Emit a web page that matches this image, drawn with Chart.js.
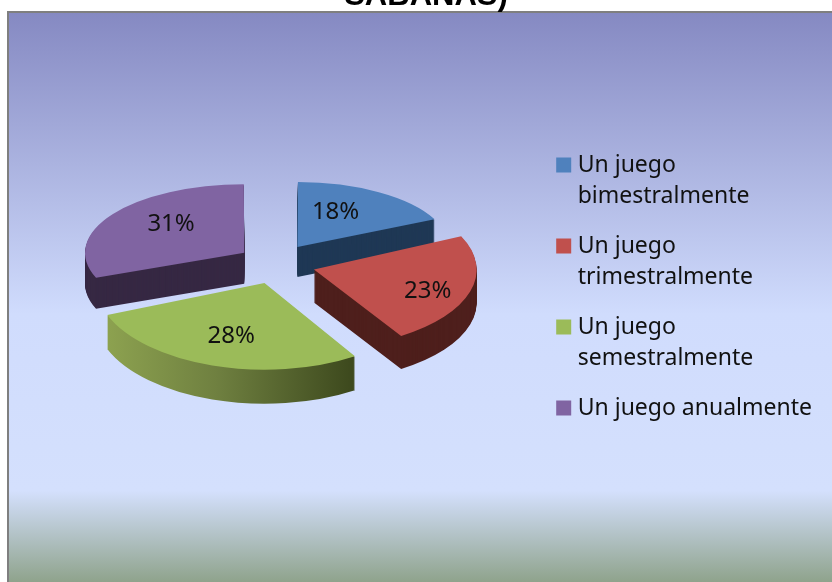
<!DOCTYPE html>
<html>
<head>
<meta charset="utf-8">
<style>
html,body{margin:0;padding:0;background:#fff;overflow:hidden}
canvas{display:block}
</style>
<script src="https://cdn.jsdelivr.net/npm/chart.js@4"></script>
</head>
<body>
<canvas id="c" width="832" height="582"></canvas>
<script>
const categories = [
  ["Un juego", "bimestralmente"],
  ["Un juego", "trimestralmente"],
  ["Un juego", "semestralmente"],
  ["Un juego anualmente"]
];
const percentages = [18, 23, 28, 31];
const titleText = "SABANAS)";

const topColors = ["#4f81bd", "#c0504d", "#9bbb59", "#8064a2"];
const sideColors = ["#1f3855", "#4e1f1c", null, "#362843"];
const labelRadiusX = [0.48, 0.73, 0.64, 0.565];
const labelRadiusY = [0.66, 0.99, 0.65, 0.75];
const sliceScaleX = [1, 1, 1, 1.03];
const drawOrder = [0, 3, 1, 2];

const view = { x: 276.5, y: 264, tilt: 0.513, ry: 0.47, radius: 160, explode: 39, depth: 32, persX: 0.06, persY: 0.16 };
const panel = { left: 8, top: 12 };

const backgroundPlugin = {
  id: "panel",
  beforeDraw(chart) {
    const ctx = chart.ctx, w = chart.width, h = chart.height;
    const g = ctx.createLinearGradient(0, panel.top, 0, h);
    g.addColorStop(0, "#8589c2");
    g.addColorStop(0.53, "#d0dcfd");
    g.addColorStop(0.84, "#d4e0fd");
    g.addColorStop(1, "#8fa38c");
    ctx.save();
    ctx.fillStyle = g;
    ctx.fillRect(panel.left, panel.top, w - panel.left, h - panel.top);
    ctx.fillStyle = "#7f7f7f";
    ctx.fillRect(panel.left - 1, panel.top - 1, w, 2);
    ctx.fillRect(panel.left - 1, panel.top - 1, 2, h);
    ctx.restore();
  }
};

const pie3dPlugin = {
  id: "pie3d",
  beforeDatasetsDraw(chart) {
    const ctx = chart.ctx;
    const arcs = chart.getDatasetMeta(0).data;
    const project = (arc, i) => {
      const mid = (arc.startAngle + arc.endAngle) / 2;
      const off = arc.options.offset / 4;
      const fix = 1 - Math.sin(Math.min(Math.PI, arc.circumference));
      const comp = arc.outerRadius / (arc.outerRadius + off * fix);
      const d = Math.sin(mid);
      return {
        mid, off, d,
        ax: arc.x + Math.cos(mid) * off,
        ay: arc.y + Math.sin(mid) * off,
        sx: view.x + Math.cos(mid) * view.explode,
        sy: view.y + Math.sin(mid) * view.explode * view.tilt,
        kx: comp * (1 + view.persX * d) * sliceScaleX[i],
        ky: comp * view.ry * (1 + view.persY * d)
      };
    };
    const paint = (arc, p, shift, fill) => {
      const ghost = Object.create(arc);
      ghost.options = Object.create(arc.options, { backgroundColor: { value: fill } });
      ctx.save();
      ctx.translate(p.sx, p.sy + shift);
      ctx.scale(p.kx, p.ky);
      ctx.translate(-p.ax, -p.ay);
      arc.constructor.prototype.draw.call(ghost, ctx);
      ctx.restore();
    };
    drawOrder.forEach(i => {
      const arc = arcs[i], p = project(arc, i);
      let side = sideColors[i];
      if (!side) {
        const g = ctx.createLinearGradient(p.ax - arc.outerRadius, 0, p.ax + 0.58 * arc.outerRadius, 0);
        g.addColorStop(0, "#93a953");
        g.addColorStop(0.5, "#6f8040");
        g.addColorStop(1, "#3e4a1e");
        side = g;
      }
      const depth = Math.round(view.depth * (1 + 0.08 * p.d));
      for (let s = depth; s >= 1; s--) paint(arc, p, s, side);
      paint(arc, p, 0, topColors[i]);
    });
    ctx.save();
    ctx.font = '24px "Noto Sans"';
    ctx.fillStyle = "#111";
    ctx.textAlign = "center";
    ctx.textBaseline = "middle";
    arcs.forEach((arc, i) => {
      const p = project(arc, i);
      ctx.fillText(percentages[i] + "%",
        p.sx + Math.cos(p.mid) * arc.outerRadius * labelRadiusX[i] * p.kx,
        p.sy + Math.sin(p.mid) * arc.outerRadius * labelRadiusY[i] * p.ky);
    });
    ctx.restore();
    return false;
  }
};

new Chart(document.getElementById("c"), {
  type: "pie",
  data: {
    labels: categories,
    datasets: [{
      data: percentages,
      backgroundColor: topColors,
      borderWidth: 0,
      offset: view.explode * 4,
      radius: view.radius
    }]
  },
  options: {
    responsive: false,
    animation: false,
    events: [],
    layout: { padding: { left: 30, right: 10, top: 0, bottom: 1 } },
    plugins: {
      tooltip: { enabled: false },
      title: {
        display: true,
        text: titleText,
        color: "#000",
        font: { family: '"Liberation Sans"', size: 31, weight: "bold", lineHeight: 1.2 },
        padding: { top: -22, bottom: 0 }
      },
      legend: {
        position: "right",
        labels: {
          boxWidth: 5,
          boxHeight: 5,
          padding: 19,
          color: "#111",
          font: { family: '"Noto Sans"', size: 23, lineHeight: 31 / 23 },
          generateLabels(chart) {
            return Chart.overrides.pie.plugins.legend.labels.generateLabels(chart)
              .map(item => Object.assign(item, { lineWidth: 10, strokeStyle: item.fillStyle }));
          }
        }
      }
    }
  },
  plugins: [backgroundPlugin, pie3dPlugin]
});
</script>
</body>
</html>
